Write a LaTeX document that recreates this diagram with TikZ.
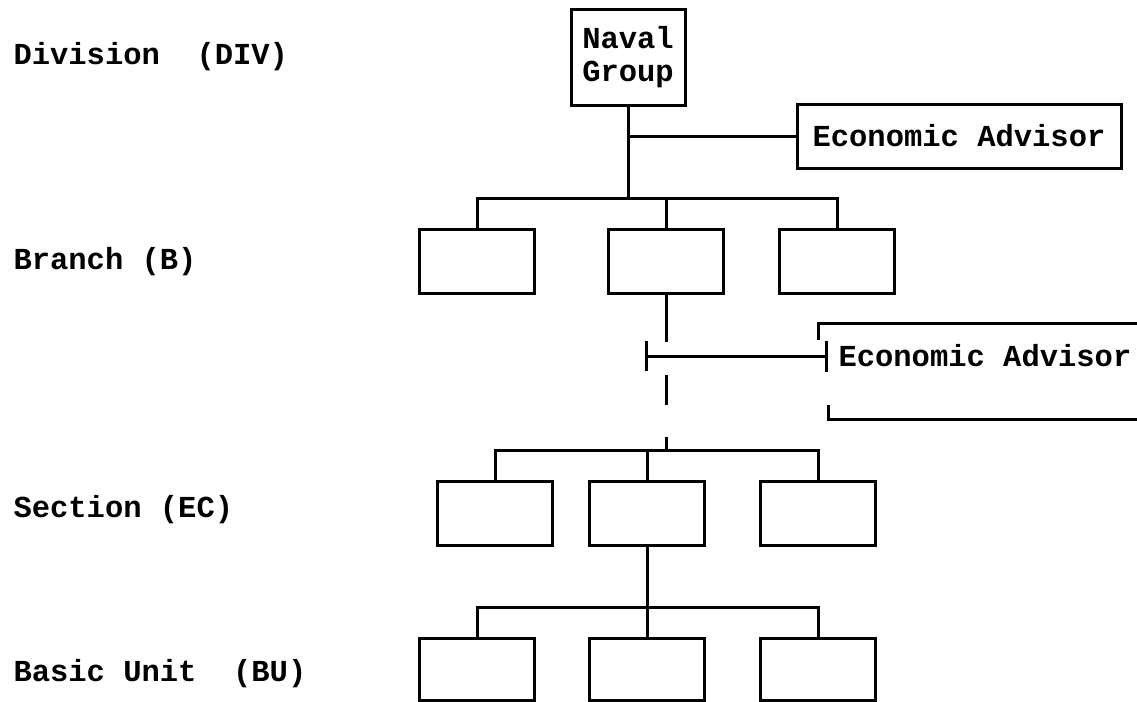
\documentclass[tikz,border=0pt]{standalone}
\usepackage{fontspec}
\setmonofont{Liberation Mono}
\usetikzlibrary{arrows.meta}
\begin{document}
\begin{tikzpicture}[x = 1pt, y = -1pt, line width = 3pt,
every node/.style = {font = \fontsize{30.5}{33}\selectfont\ttfamily\bfseries},
level/.style = {anchor = west, inner sep = 0},
unit/.style = {draw, minimum width = 115, minimum height = 64, inner sep = 0},
tick/.style = {{Bar[width = 30pt]}-{Bar[width = 31pt]}}]
\useasboundingbox (0,0) rectangle (1137,701);
% levels
\node[level] (ldiv) at (12,57) {Division\ \ (DIV)};
\node[level] (lbr) at (12,262) {Branch (B)};
\node[level] (lsec) at (12,510) {Section (EC)};
\node[level] (lbu) at (12,674) {Basic\ Unit\ \ (BU)};
% division
\node[draw, align = center, minimum width = 114, minimum height = 95, inner sep = 0] (naval) at (628,57.5) {Naval\\Group};
\node[draw, minimum width = 324, minimum height = 64, inner sep = 0] (ea1) at (959,136) {Economic Advisor};
\coordinate (bbus) at (628,198);
\draw (naval) -- (bbus);
\draw (naval.south |- ea1.west) -- (ea1.west);
% branches
\foreach \n/\x in {1/477,2/666,3/837} {
\node[unit] (b\n) at (\x,261) {};
}
\draw (b1.north) -- (b1.north |- bbus) -- (b3.north |- bbus) -- (b3.north);
\draw (b2.north) -- (b2.north |- bbus);
\coordinate (sbus) at (666,450);
\draw[dash pattern = on 47pt off 33pt on 30pt off 32pt on 20pt] (b2.south) -- (sbus);
% advisor at branch level
\coordinate (cross) at (645,356);
\node[anchor = west, inner sep = 9] (ea2) at (828,356) {Economic Advisor};
\draw[tick] (cross) -- (ea2.west);
\draw (818,340) -- (818,323) -- (1137,323);
\draw (828,405) -- (828,419) -- (1137,419);
% sections
\foreach \n/\x in {1/495,2/647,3/818} {
\node[unit] (s\n) at (\x,513) {};
}
\draw (s1.north) -- (s1.north |- sbus) -- (s3.north |- sbus) -- (s3.north);
\draw (s2.north) -- (s2.north |- sbus);
% basic units
\coordinate (ubus) at (647,607);
\draw (s2.south) -- (ubus);
\foreach \n/\x in {1/477,2/647,3/818} {
\node[unit, minimum height = 62] (u\n) at (\x,669) {};
}
\draw (u1.north) -- (u1.north |- ubus) -- (u3.north |- ubus) -- (u3.north);
\draw (u2.north) -- (ubus);
\end{tikzpicture}
\end{document}
